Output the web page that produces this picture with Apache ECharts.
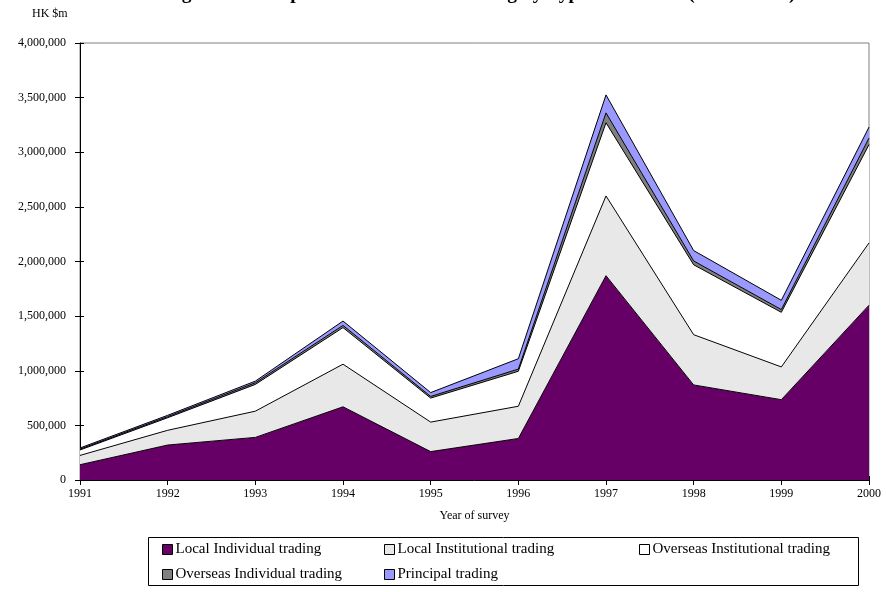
<!DOCTYPE html>
<html>
<head>
<meta charset="utf-8">
<script src="https://cdn.jsdelivr.net/npm/echarts@6/dist/echarts.min.js"></script>
<style>
  html, body { margin: 0; padding: 0; background: #fff; }
  #chart { width: 886px; height: 592px; }
</style>
</head>
<body>
<div id="chart"></div>
<script>
// Survey years
const years = ['1991', '1992', '1993', '1994', '1995', '1996', '1997', '1998', '1999', '2000'];

// Trading value by type (HK $m)
const localIndividual      = [140000, 320000, 390000, 670000, 260000, 380000, 1870000, 870000, 735000, 1600000];
const localInstitutional   = [85000, 135000, 240000, 390000, 270000, 295000, 730000, 460000, 300000, 570000];
const overseasInstitutional = [50000, 115000, 245000, 335000, 220000, 320000, 670000, 640000, 500000, 900000];
const overseasIndividual   = [8000, 10000, 15000, 20000, 15000, 20000, 90000, 35000, 25000, 60000];
const principalTrading     = [10000, 12000, 15000, 40000, 35000, 95000, 165000, 95000, 85000, 100000];

const seriesNames = [
  'Local Individual trading',
  'Local Institutional trading',
  'Overseas Institutional trading',
  'Overseas Individual trading',
  'Principal trading'
];
const seriesData = [localIndividual, localInstitutional, overseasInstitutional, overseasIndividual, principalTrading];
const seriesColors = ['#660066', '#E8E8E8', '#FFFFFF', '#808080', '#9999FF'];

const FONT = "'Liberation Serif', 'Times New Roman', serif";

const chart = echarts.init(document.getElementById('chart'), null, { renderer: 'canvas' });

const series = seriesNames.map((name, i) => ({
  name: name,
  type: 'line',
  stack: 'total',
  data: seriesData[i],
  symbol: 'none',
  lineStyle: { color: '#000', width: 1 },
  areaStyle: { color: seriesColors[i], opacity: 1 },
  itemStyle: { color: seriesColors[i] },
  emphasis: { disabled: true },
  z: 2
}));

// Legend layout: three columns, two rows
const legendPos = [
  { left: 162, top: 542 },
  { left: 384, top: 542 },
  { left: 639, top: 542 },
  { left: 162, top: 567 },
  { left: 384, top: 567 }
];
const legends = seriesNames.map((name, i) => ({
  left: legendPos[i].left,
  top: legendPos[i].top,
  orient: 'horizontal',
  padding: 0,
  itemWidth: 10,
  itemHeight: 10,
  itemGap: 4,
  selectedMode: false,
  textStyle: { fontFamily: FONT, fontSize: 15, color: '#000', padding: [0, 0, 0, -2] },
  data: [{
    name: name,
    icon: 'rect',
    itemStyle: { color: seriesColors[i], borderColor: '#000', borderWidth: 1 }
  }]
}));

const fmt = v => Number(v).toLocaleString('en-US');

chart.setOption({
  animation: false,
  backgroundColor: '#fff',
  grid: {
    left: 80, right: 17, top: 43, bottom: 112,
    show: true, borderColor: '#808080', borderWidth: 1, backgroundColor: 'transparent'
  },
  legend: legends,
  xAxis: [{
    type: 'category',
    data: years,
    boundaryGap: false,
    name: 'Year of survey',
    nameLocation: 'middle',
    nameGap: 30,
    nameTextStyle: { fontFamily: FONT, fontSize: 12, color: '#000' },
    axisLine: { lineStyle: { color: '#000', width: 1 } },
    axisTick: { show: true, length: 5, lineStyle: { color: '#000' } },
    axisLabel: { fontFamily: FONT, fontSize: 12, color: '#000', margin: 8 },
    splitLine: { show: false }
  }, {
    type: 'category',
    data: years,
    boundaryGap: false,
    position: 'bottom',
    axisLine: { show: false },
    axisTick: { show: true, inside: true, length: 4, lineStyle: { color: '#000' } },
    axisLabel: { show: false },
    splitLine: { show: false }
  }],
  yAxis: [{
    type: 'value',
    min: 0,
    max: 4000000,
    interval: 500000,
    axisLine: { show: true, lineStyle: { color: '#000', width: 1 } },
    axisTick: { show: true, length: 5, lineStyle: { color: '#000' } },
    axisLabel: { fontFamily: FONT, fontSize: 12, color: '#000', margin: 14, formatter: fmt },
    splitLine: { show: false }
  }, {
    type: 'value',
    min: 0,
    max: 4000000,
    interval: 500000,
    position: 'left',
    axisLine: { show: false },
    axisTick: { show: true, inside: true, length: 4, lineStyle: { color: '#000' } },
    axisLabel: { show: false },
    splitLine: { show: false }
  }],
  series: series,
  graphic: [
    {
      type: 'text',
      x: 480,
      y: -16,
      style: {
        text: 'Figure 2 : Composition of Market Trading by Type of Investor (1991 - 2000)',
        font: "bold 19.5px 'Liberation Serif', 'Times New Roman', serif",
        fill: '#000',
        align: 'center',
        verticalAlign: 'top'
      }
    },
    {
      type: 'text',
      left: 32,
      top: 8,
      style: {
        text: 'HK $m',
        font: "12px 'Liberation Serif', 'Times New Roman', serif",
        fill: '#000'
      }
    },
    {
      type: 'rect',
      shape: { x: 148.5, y: 537.5, width: 710, height: 48 },
      style: { fill: 'none', stroke: '#000', lineWidth: 1 },
      z: -1
    }
  ]
});
</script>
</body>
</html>
